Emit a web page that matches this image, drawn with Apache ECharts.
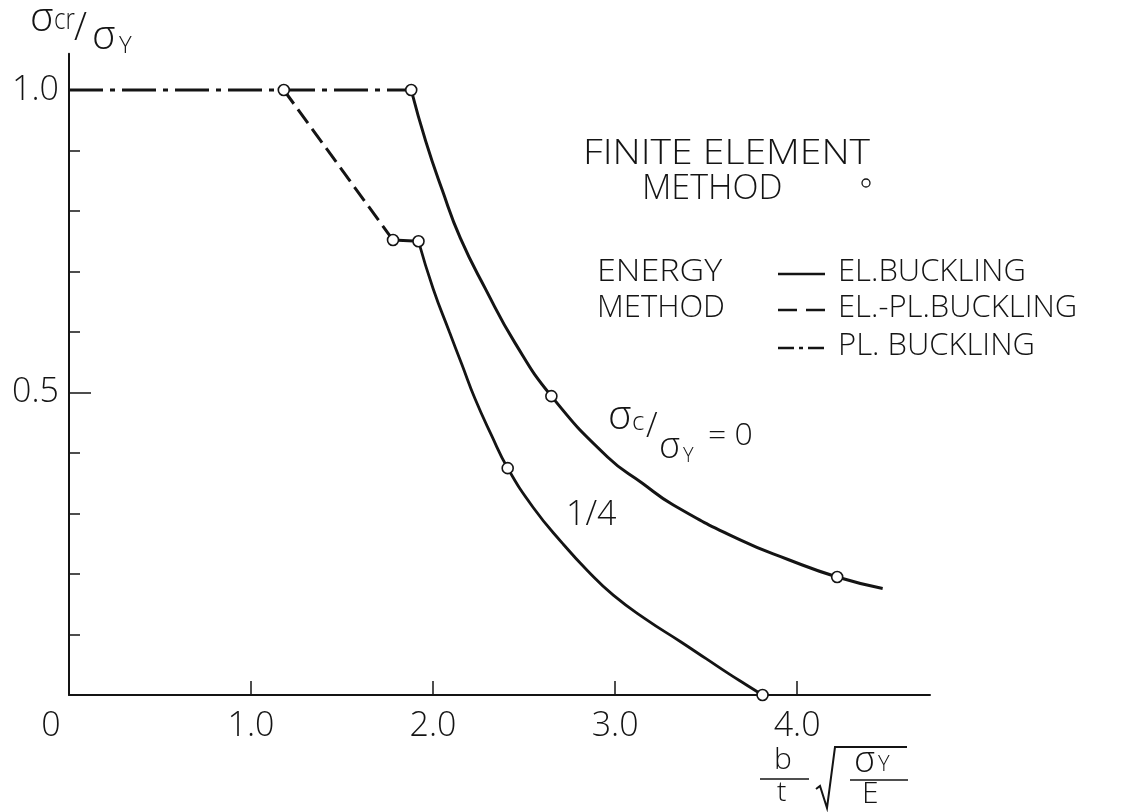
<!DOCTYPE html>
<html>
<head>
<meta charset="utf-8">
<script src="https://cdn.jsdelivr.net/npm/echarts@6/dist/echarts.min.js"></script>
<style>
  html, body { margin: 0; padding: 0; background: #fff; }
  #chart { width: 1143px; height: 812px; }
</style>
</head>
<body>
<div id="chart"></div>
<script>
// Buckling strength of plates: sigma_cr / sigma_Y against b/t * sqrt(sigma_Y / E)

// Plastic buckling plateau (dash-dot)
const plBuckling = [[0, 1.0], [1.88, 1.0]];
// Elastic buckling, sigma_c / sigma_Y = 0
const elBucklingC0 = [
  [1.88, 1.0], [1.96, 0.915], [2.05, 0.835], [2.15, 0.755], [2.29, 0.67],
  [2.45, 0.582], [2.65, 0.494], [2.96, 0.393], [3.15, 0.35], [3.32, 0.314],
  [3.69, 0.256], [3.95, 0.224], [4.22, 0.195], [4.47, 0.176]
];
// Elastic-plastic buckling, sigma_c / sigma_Y = 1/4 (dashed)
const elPlBucklingC14 = [[1.18, 1.0], [1.78, 0.752]];
// Short transition, sigma_c / sigma_Y = 1/4
const transitionC14 = [[1.78, 0.752], [1.92, 0.75]];
// Elastic buckling, sigma_c / sigma_Y = 1/4
const elBucklingC14 = [
  [1.92, 0.75], [2.0, 0.672], [2.09, 0.6], [2.16, 0.545], [2.23, 0.49],
  [2.32, 0.43], [2.41, 0.375], [2.55, 0.31], [2.71, 0.251], [2.85, 0.205],
  [2.99, 0.165], [3.17, 0.125], [3.36, 0.088], [3.5, 0.06], [3.63, 0.034],
  [3.72, 0.017], [3.81, 0.0]
];
// Finite element method results
const femPoints = [
  [1.18, 1.0], [1.88, 1.0], [1.78, 0.752], [1.92, 0.75],
  [2.65, 0.494], [4.22, 0.195], [2.41, 0.375], [3.81, 0.0]
];
// Axis ticks and labels
const xTicks = [1, 2, 3, 4];
const xLabels = [0, 1, 2, 3, 4];
const yTicks = [0.1, 0.2, 0.3, 0.4, 0.5, 0.6, 0.7, 0.8, 0.9, 1.0];
const yLabels = [0.5, 1.0];
const yMajorTicks = [0.5];

const INK = '#141414';
const FONT = '"Open Sans", "DejaVu Sans", sans-serif';

const chart = echarts.init(document.getElementById('chart'), null, { renderer: 'canvas' });

function txt(x, y, text, size, sx) {
  return {
    type: 'text', x: x, y: y, z: 10, scaleX: sx || 1,
    style: { text: text, fill: INK, font: '300 ' + size + 'px ' + FONT, verticalAlign: 'top', align: 'left' }
  };
}
function seg(x1, y1, x2, y2, w, dash) {
  return {
    type: 'line', z: 10,
    shape: { x1: x1, y1: y1, x2: x2, y2: y2 },
    style: { stroke: INK, lineWidth: w || 2, lineDash: dash || null }
  };
}

const lineBase = { type: 'line', showSymbol: false, symbol: 'none', silent: true, color: INK };

const option = {
  backgroundColor: '#fff',
  animation: false,
  grid: { left: 69, right: 213, top: 53.7, bottom: 117 },
  xAxis: {
    type: 'value', min: 0, max: 4.73,
    axisLine: { lineStyle: { color: INK, width: 2 } },
    axisTick: { inside: true, length: 14, customValues: xTicks, lineStyle: { color: INK, width: 1.5 } },
    axisLabel: {
      customValues: xLabels, margin: 14, color: INK, fontSize: 34, fontWeight: 300, fontFamily: FONT,
      formatter: v => v === 0 ? '{z|0}' : v.toFixed(1),
      rich: { z: { fontSize: 34, fontWeight: 300, fontFamily: FONT, color: INK, padding: [0, 36, 0, 0] } }
    },
    splitLine: { show: false }
  },
  yAxis: [{
    type: 'value', min: 0, max: 1.06,
    axisLine: { show: true, lineStyle: { color: INK, width: 2 } },
    axisTick: { inside: true, length: 11, customValues: yTicks, lineStyle: { color: INK, width: 1.5 } },
    axisLabel: {
      customValues: yLabels, margin: 10, color: INK, fontSize: 34, fontWeight: 300, fontFamily: FONT,
      formatter: v => v.toFixed(1)
    },
    splitLine: { show: false }
  }, {
    type: 'value', min: 0, max: 1.06, position: 'left',
    axisLine: { show: false },
    axisTick: { show: true, inside: true, length: 22, customValues: yMajorTicks, lineStyle: { color: INK, width: 1.5 } },
    axisLabel: { show: false },
    splitLine: { show: false }
  }],
  series: [
    Object.assign({}, lineBase, { name: 'PL. BUCKLING', data: plBuckling,
      lineStyle: { color: INK, width: 3, type: [34, 7, 5, 7] } }),
    Object.assign({}, lineBase, { name: 'EL.BUCKLING', data: elBucklingC0, smooth: 0.5,
      lineStyle: { color: INK, width: 3 } }),
    Object.assign({}, lineBase, { name: 'EL.-PL.BUCKLING', data: elPlBucklingC14,
      lineStyle: { color: INK, width: 3, type: [17, 7] } }),
    Object.assign({}, lineBase, { name: 'transition 1/4', data: transitionC14,
      lineStyle: { color: INK, width: 3 } }),
    Object.assign({}, lineBase, { name: 'EL.BUCKLING 1/4', data: elBucklingC14, smooth: 0.5,
      lineStyle: { color: INK, width: 2.8 } }),
    {
      type: 'scatter', name: 'FINITE ELEMENT METHOD', data: femPoints, silent: true, z: 5,
      symbol: 'circle', symbolSize: 11,
      itemStyle: { color: '#fff', borderColor: INK, borderWidth: 1.6, opacity: 1 }
    }
  ],
  graphic: [
    // y axis title: sigma_cr / sigma_Y
    txt(30, 0, 'σ', 40),
    txt(54, 5, 'cr', 30, 0.8),
    txt(74, 10, '/', 38),
    txt(92, 18, 'σ', 40),
    txt(119, 34, 'Y', 24),

    // x axis title: b/t * sqrt(sigma_Y / E)
    txt(774, 745, 'b', 30),
    seg(760, 779, 809, 779, 1.5),
    txt(777, 779, 't', 28),
    { type: 'polyline', z: 10, shape: { points: [[816, 789], [820, 786], [827, 808], [835, 747], [907, 747]] },
      style: { stroke: INK, lineWidth: 2, fill: null } },
    txt(854, 744, 'σ', 36),
    txt(878, 754, 'Y', 22),
    seg(850, 780, 908, 780, 1.5),
    txt(862, 779, 'E', 30),

    // legend: finite element method
    txt(583, 137, 'FINITE ELEMENT', 34, 1.15),
    txt(642, 172, 'METHOD', 34),
    { type: 'circle', z: 10, shape: { cx: 866, cy: 183, r: 4 },
      style: { fill: '#fff', stroke: INK, lineWidth: 1.3 } },

    // legend: energy method
    txt(597, 257, 'ENERGY', 31, 1.1),
    txt(597, 293, 'METHOD', 31),
    seg(778, 274, 825, 274, 2.5),
    txt(838, 257, 'EL.BUCKLING', 31),
    seg(778, 310, 825, 310, 2.5, [19, 9]),
    txt(838, 293, 'EL.-PL.BUCKLING', 31),
    seg(778, 348, 825, 348, 2.5, [16, 5, 4, 5]),
    txt(838, 331, 'PL. BUCKLING', 31),

    // curve annotations
    txt(608, 398, 'σ', 40),
    txt(632, 410, 'c', 26),
    txt(646, 410, '/', 34),
    txt(659, 430, 'σ', 36),
    txt(683, 446, 'Y', 20),
    txt(708, 420, '= 0', 32),
    txt(566, 498, '1/4', 34)
  ]
};

chart.setOption(option);
</script>
</body>
</html>
